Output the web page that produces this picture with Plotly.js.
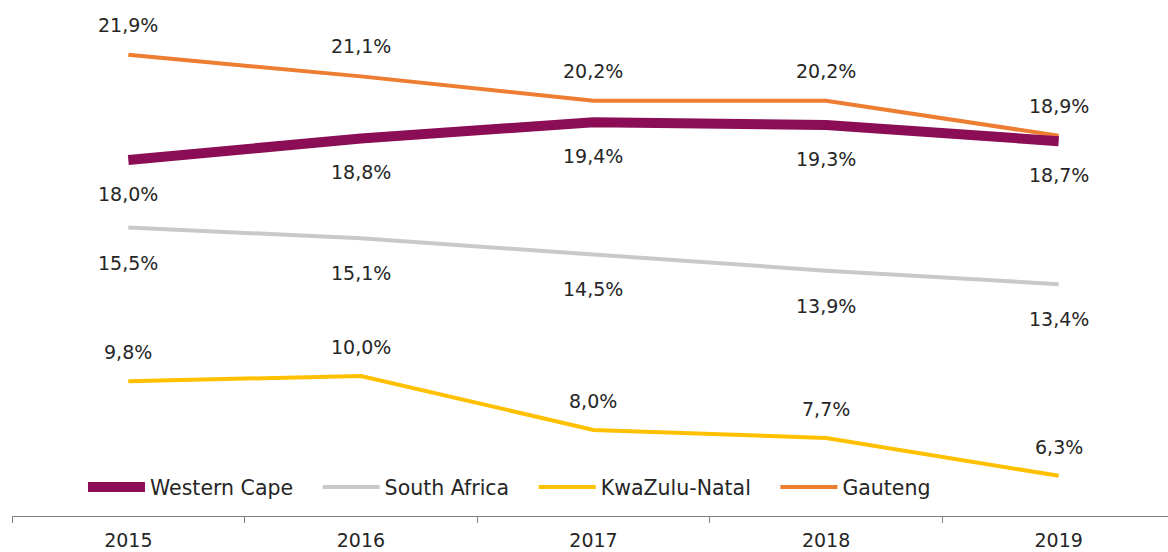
<!DOCTYPE html>
<html><head><meta charset="utf-8">
<script src="https://cdn.plot.ly/plotly-3.0.1.min.js"></script>
<style>html,body{margin:0;padding:0;background:#fff}#chart{width:1168px;height:552px}</style>
</head><body><div id="chart"></div>
<script>
const years = ['2015','2016','2017','2018','2019'];
const westernCape = [18.0, 18.8, 19.4, 19.3, 18.7];
const southAfrica = [15.5, 15.1, 14.5, 13.9, 13.4];
const kwaZuluNatal = [9.8, 10.0, 8.0, 7.7, 6.3];
const gauteng = [21.9, 21.1, 20.2, 20.2, 18.9];

const FONT = 'DejaVu Sans, sans-serif';
const fmt = v => v.toFixed(1).replace('.', ',') + '%';
const pad = '\u00a0\u00a0\u00a0';

const series = [
  {name:'Gauteng', y:gauteng, color:'#ED7D31', width:4, rank:4, shift:30},
  {name:'KwaZulu-Natal', y:kwaZuluNatal, color:'#FFC000', width:4, rank:3, shift:29},
  {name:'South Africa', y:southAfrica, color:'#C9C9C9', width:4, rank:2, shift:-35},
  {name:'Western Cape', y:westernCape, color:'#8B0D55', width:10, rank:1, shift:-34}
];

const traces = series.map(s => ({
  type:'scatter', mode:'lines', x:years, y:s.y, name:s.name + pad,
  line:{color:s.color, width:s.width, shape:'linear'},
  legendrank:s.rank, hoverinfo:'skip'
}));

const annotations = [];
series.forEach(s => {
  s.y.forEach((v, i) => {
    annotations.push({x:i, y:v, xref:'x', yref:'y', text:fmt(v), showarrow:false,
      yshift:s.shift, font:{family:FONT, size:19, color:'#262626'}});
  });
});

const layout = {
  width:1168, height:552,
  margin:{l:12, r:0, t:0, b:36},
  paper_bgcolor:'#fff', plot_bgcolor:'#fff',
  showlegend:true,
  legend:{orientation:'h', x:0.0614, y:0.056, xanchor:'left', yanchor:'middle',
    font:{family:FONT, size:20.5, color:'#262626'}, itemwidth:57, bgcolor:'rgba(0,0,0,0)'},
  xaxis:{type:'category', range:[-0.5, 4.47], showgrid:false, zeroline:false,
    showline:true, linecolor:'#7F7F7F', linewidth:1,
    ticks:'outside', tickson:'boundaries', ticklen:6, tickcolor:'#7F7F7F',
    ticklabelstandoff:7,
    tickfont:{family:FONT, size:19, color:'#262626'}},
  yaxis:{range:[4.81, 23.93], showgrid:false, zeroline:false, showline:false,
    showticklabels:false, ticks:''},
  annotations:annotations
};

Plotly.newPlot('chart', traces, layout, {displayModeBar:false});
</script></body></html>
